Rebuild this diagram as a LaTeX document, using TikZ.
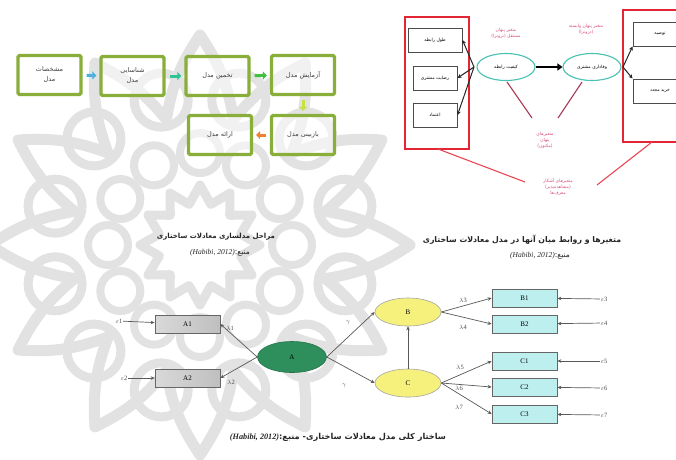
\documentclass[tikz,border=0pt]{standalone}
\usepackage{fontspec}
\setmainfont{Liberation Serif}
\newfontfamily\arfont[Script=Arabic]{DejaVu Sans}
\TeXXeTstate=1
\usetikzlibrary{arrows.meta,shapes.geometric}
\newcommand\pfa[1]{{\arfont\beginR #1\endR}}
\newcommand\hab{{\rmfamily\itshape (Habibi, 2012)}}
\definecolor{olivebox}{HTML}{8AAE3A}
\definecolor{redbox}{HTML}{E42634}
\definecolor{pinktxt}{HTML}{D8507A}
\definecolor{maroonln}{HTML}{A83A55}
\definecolor{tealell}{HTML}{48C2B2}
\definecolor{darkgreen}{HTML}{2E8F5C}
\definecolor{yellowell}{HTML}{F6F07C}
\definecolor{cyanbox}{HTML}{BDEFEF}
\definecolor{wm}{HTML}{E2E2E2}
\tikzset{
  gbox/.style={draw=olivebox, line width=3.2pt, rounded corners=1.5pt, fill=white, fill opacity=0.55, text opacity=1, minimum width=63pt, minimum height=39pt, align=center, font=\fontsize{6.5}{9}\selectfont, text=black!75},
  flowarr/.style={line width=3pt, -{Triangle[length=4pt,width=8pt]}, shorten <=4pt, shorten >=3pt},
  rgroup/.style={draw=redbox, line width=1.4pt},
  ibox/.style={draw=black!70, line width=1pt, fill=white, minimum width=44pt, minimum height=24pt, font=\fontsize{4.5}{5}\selectfont},
  tell/.style={ellipse, draw=tealell, line width=1.1pt, fill=white, minimum width=58pt, minimum height=27pt, inner sep=0pt, font=\fontsize{4.5}{5}\selectfont},
  blk/.style={draw=black!85, line width=1pt, -{Stealth[length=4pt,width=4pt]}},
  plab/.style={text=pinktxt, align=center, font=\fontsize{4.5}{6}\selectfont},
  captxt/.style={font=\fontsize{7.5}{8}\selectfont, text=black!85},
  capbold/.style={font=\bfseries\fontsize{7}{8}\selectfont, text=black!85},
  gbx/.style={draw=black!60, line width=0.7pt, left color=gray!30, right color=gray!50, minimum width=65pt, minimum height=18pt, font=\fontsize{7}{8}\selectfont},
  cbx/.style={draw=black!60, line width=0.7pt, fill=cyanbox, minimum width=65pt, minimum height=18pt, font=\fontsize{7}{8}\selectfont},
  yell/.style={ellipse, draw=gray!70, line width=0.6pt, fill=yellowell, minimum width=66pt, minimum height=28pt, inner sep=0pt, font=\fontsize{7}{8}\selectfont},
  sarr/.style={draw=black!65, line width=0.7pt, -{Stealth[length=4pt,width=3.5pt]}},
  slab/.style={font=\fontsize{6.5}{7}\selectfont, text=black!70, inner sep=0.5pt},
  wmline/.style={draw=wm, line width=11pt, line join=round}
}
\begin{document}
\begin{tikzpicture}[x=1pt,y=-1pt]
\useasboundingbox (0,0) rectangle (676,459);
\fill[white] (0,0) rectangle (676,459);

% ---------- watermark rosette ----------
\begin{scope}[shift={(200,245)}]
  \draw[wmline] (0:210)
    \foreach \k in {0,...,11}{ to[bend left=12] ({30*\k+15}:130) to[bend left=12] ({30*\k+30}:210)} -- cycle;
  \foreach \k in {0,...,11}{
    \draw[wmline, line width=9pt] ({30*\k+15}:150) circle (27);
    \draw[wmline, line width=8pt] ({30*\k}:92) circle (20);
  }
  \draw[wmline, line width=9pt] (0:60)
    \foreach \k in {0,...,11}{ -- ({30*\k+15}:42) -- ({30*\k+30}:60)} -- cycle;
\end{scope}

% ---------- stages of SEM ----------
\node[gbox] (s1) at (49.5,75) {\pfa{مشخصات}\\[1pt]\pfa{مدل}};
\node[gbox] (s2) at (132.5,76) {\pfa{شناسایی}\\[1pt]\pfa{مدل}};
\node[gbox] (s3) at (217.5,76) {\pfa{تخمین مدل}};
\node[gbox] (s4) at (303,75) {\pfa{آزمایش مدل}};
\node[gbox] (s6) at (303,135) {\pfa{بازبینی مدل}};
\node[gbox] (s5) at (220,135) {\pfa{ارائه مدل}};
\draw[flowarr, color={rgb,255:red,72;green,178;blue,220}] (s1) -- (s2);
\draw[flowarr, color={rgb,255:red,48;green,196;blue,150}] (s2) -- (s3);
\draw[flowarr, color={rgb,255:red,64;green,192;blue,64}] (s3) -- (s4);
\draw[flowarr, color={rgb,255:red,200;green,226;blue,64}] (s4) -- (s6);
\draw[flowarr, color={rgb,255:red,240;green,128;blue,48}] (s6) -- (s5);

\node[capbold] (c1a) at (216,237) {\pfa{مراحل مدلسازی معادلات ساختاری}};
\node[captxt] (c1b) at (220,253) {\hab\pfa{منبع:}};

% ---------- variables and relations ----------
\node[rgroup, minimum width=64pt, minimum height=132pt] (lg) at (437,83) {};
\node[rgroup, minimum width=80pt, minimum height=132pt] (rg) at (663,76) {};
\node[ibox, minimum width=54pt] (l1) at (435,40) {\pfa{طول رابطه}};
\node[ibox] (l2) at (435,78) {\pfa{رضایت مشتری}};
\node[ibox] (l3) at (435,115) {\pfa{اعتماد}};
\node[ibox, minimum width=54pt] (r1) at (660,34) {\pfa{توصیه}};
\node[ibox, minimum width=54pt] (r2) at (660,91) {\pfa{خرید مجدد}};
\node[tell] (e1) at (506,67) {\pfa{کیفیت رابطه}};
\node[tell] (e2) at (592,67) {\pfa{وفاداری مشتری}};
\coordinate (e1l) at (474,67);
\coordinate (e2r) at (623,67);
\draw[blk] (e1l) -- (l1.east);
\draw[blk] (e1l) -- (l2.east);
\draw[blk] (e1l) -- (l3.east);
\draw[blk] (e2r) -- (r1.south west);
\draw[blk] (e2r) -- (r2.north west);
\draw[line width=2.4pt, -{Triangle[length=5pt,width=7pt]}] (e1) -- (e2);
\node[plab] (p1) at (506,33) {\pfa{متغیر پنهان}\\\pfa{مستقل (برونزا)}};
\node[plab] (p2) at (586,29) {\pfa{متغیر پنهان وابسته}\\\pfa{(درونزا)}};
\node[plab] (p3) at (545,140) {\pfa{متغیرهای}\\\pfa{پنهان}\\\pfa{(مکنون)}};
\node[plab] (p4) at (558,187) {\pfa{متغیرهای آشکار}\\\pfa{(مشاهده‌پذیر)}\\\pfa{معرف‌ها}};
\coordinate (m1) at (532,118);
\coordinate (m2) at (558,118);
\coordinate (b1) at (525,182);
\coordinate (b2) at (597,185);
\draw[maroonln, line width=1.1pt] (507,82) -- (m1);
\draw[maroonln, line width=1.1pt] (582,82) -- (m2);
\draw[redbox!85, line width=1.1pt] (438,149) -- (b1);
\draw[redbox!85, line width=1.1pt] (652,142) -- (b2);

\node[capbold, font=\bfseries\fontsize{7.8}{9}\selectfont] (c2a) at (522,240) {\pfa{متغیرها و روابط میان آنها در مدل معادلات ساختاری}};
\node[captxt] (c2b) at (540,256) {\hab\pfa{منبع:}};

% ---------- general structure ----------
\node[gbx] (a1) at (187.5,324) {A1};
\node[gbx] (a2) at (187.5,378) {A2};
\node[ellipse, draw=darkgreen!80!black, line width=0.6pt, fill=darkgreen, minimum width=69pt, minimum height=31pt, inner sep=0pt, font=\fontsize{7}{8}\selectfont] (A) at (292,357) {A};
\node[yell] (B) at (408,312) {B};
\node[yell] (C) at (408,383) {C};
\node[cbx] (b1x) at (524.5,298) {B1};
\node[cbx] (b2x) at (524.5,324) {B2};
\node[cbx] (c1x) at (524.5,361) {C1};
\node[cbx] (c2x) at (524.5,387) {C2};
\node[cbx] (c3x) at (524.5,414) {C3};
\node[slab] (ep1) at (119,321) {$\varepsilon$1};
\node[slab] (ep2) at (124,378) {$\varepsilon$2};
\node[slab] (ep3) at (604,299) {$\varepsilon$3};
\node[slab] (ep4) at (604,323) {$\varepsilon$4};
\node[slab] (ep5) at (604,361) {$\varepsilon$5};
\node[slab] (ep6) at (604,388) {$\varepsilon$6};
\node[slab] (ep7) at (604,415) {$\varepsilon$7};
\draw[sarr] (ep1) -- (a1);
\draw[sarr] (ep2) -- (a2);
\foreach \e/\b in {ep3/b1x,ep4/b2x,ep5/c1x,ep6/c2x,ep7/c3x}{\draw[sarr] (\e) -- (\b);}
\draw[sarr] (A.west) -- (a1.east);
\draw[sarr] (A.west) -- (a2.east);
\draw[sarr] (A.east) -- (B.west);
\draw[sarr] (A.east) -- (C.west);
\draw[sarr] (C) -- (B);
\draw[sarr] (B.east) -- (b1x.west);
\draw[sarr] (B.east) -- (b2x.west);
\draw[sarr] (C.east) -- (c1x.west);
\draw[sarr] (C.east) -- (c2x.west);
\draw[sarr] (C.east) -- (c3x.west);
\node[slab] (l1l) at (230,328) {$\lambda$1};
\node[slab] (l2l) at (231,382) {$\lambda$2};
\node[slab] (g1) at (348,323) {$\gamma$};
\node[slab] (g2) at (344,386) {$\gamma$};
\node[slab] (l3l) at (463,300) {$\lambda$3};
\node[slab] (l4l) at (463,327) {$\lambda$4};
\node[slab] (l5l) at (460,367) {$\lambda$5};
\node[slab] (l6l) at (459,388) {$\lambda$6};
\node[slab] (l7l) at (459,407) {$\lambda$7};

\node[capbold, font=\bfseries\fontsize{8.2}{9}\selectfont] (c3a) at (338,437) {\hab\pfa{ساختار کلی مدل معادلات ساختاری- منبع:}};
\end{tikzpicture}
\end{document}
